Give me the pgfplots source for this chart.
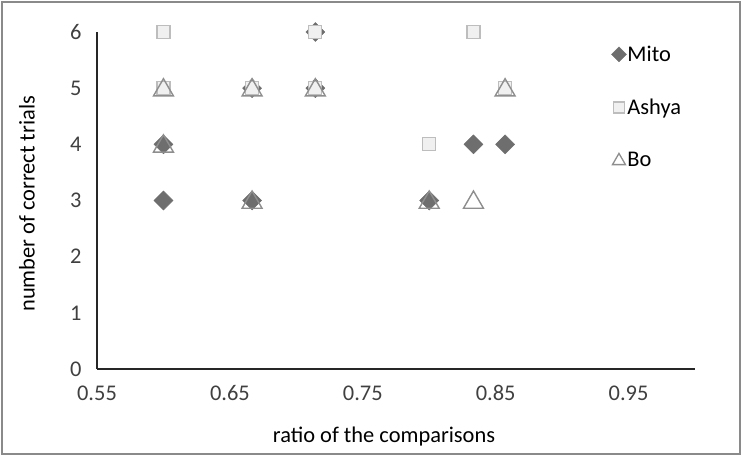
\documentclass[border=0pt]{standalone}
\usepackage{fontspec}
\setmainfont{Carlito}
\usepackage{pgfplots}
\pgfplotsset{compat=1.18}
\definecolor{mitofill}{HTML}{6E6E6E}
\definecolor{ashyafill}{HTML}{F0F0F0}
\definecolor{ashyaedge}{HTML}{BDBDBD}
\definecolor{boedge}{HTML}{8E8E8E}
\definecolor{ticktext}{HTML}{404040}
\definecolor{frame}{HTML}{8A8A8A}

\begin{document}
\begin{tikzpicture}[font=\fontsize{22.5}{26}\selectfont]
\useasboundingbox (0,0) rectangle (742bp,457bp);
\draw[frame,line width=1.4bp] (2bp,3bp) rectangle (740bp,455bp);
\begin{axis}[
  at={(97bp,88bp)},anchor=south west,
  scale only axis,width=598bp,height=337bp,
  xmin=0.55,xmax=1.0,ymin=0,ymax=6,
  xtick={0.55,0.65,0.75,0.85,0.95},
  ytick={0,1,2,3,4,5,6},
  axis lines=left,
  axis line style={-,black!85,line width=1.2bp},
  major tick length=0pt,
  /pgf/number format/assume math mode=true,
  xticklabel style={/pgf/number format/fixed,/pgf/number format/fixed zerofill,
    /pgf/number format/precision=2,yshift=-13bp},
  tick label style={text=ticktext},
  yticklabel style={xshift=-12bp},
  xlabel={ratio of the comparisons},
  ylabel={number of correct trials},
  xlabel style={at={(rel axis cs:0.48,0)},anchor=center,yshift=-68bp},
  ylabel style={at={(rel axis cs:0,0.49)},anchor=center,yshift=70bp},
  clip=false,
  legend cell align=left,
  legend style={draw=none,fill=none,at={(rel axis cs:0.855,0.968)},anchor=north west,
    row sep=34bp,nodes={inner sep=1bp}},
]
% diamonds drawn as squares turned by 45 degrees
\addplot[only marks,forget plot,mark=square*,mark size=6.7bp,
  mark options={fill=mitofill,draw=mitofill,line width=0.5bp,rotate=45}]
  coordinates {(0.6,3) (0.6,4) (0.6667,3) (0.6667,5) (0.7143,5) (0.7143,6) (0.8,3) (0.8333,4) (0.8571,4)};
\addplot[only marks,forget plot,mark=square*,mark size=6.5bp,
  mark options={fill=ashyafill,draw=ashyaedge,line width=1.3bp}]
  coordinates {(0.6,6) (0.6,5) (0.6667,5) (0.7143,5) (0.7143,6) (0.8,4) (0.8333,6) (0.8571,5)};
\addplot[only marks,forget plot,mark=triangle,mark size=11.5bp,
  mark options={draw=boedge,line width=1.4bp,yshift=-2bp}]
  coordinates {(0.6,5) (0.6,4) (0.6667,5) (0.6667,3) (0.7143,5) (0.8,3) (0.8333,3) (0.8571,5)};
\addlegendimage{only marks,mark=square*,mark size=5.3bp,mark options={fill=mitofill,draw=mitofill,rotate=45}}
\addlegendentry{Mito}
\addlegendimage{only marks,mark=square*,mark size=5.5bp,mark options={fill=ashyafill,draw=ashyaedge,line width=1.2bp}}
\addlegendentry{Ashya}
\addlegendimage{only marks,mark=triangle,mark size=7.5bp,mark options={draw=boedge,line width=1.3bp,yshift=-1bp}}
\addlegendentry{Bo}
\end{axis}
\end{tikzpicture}
\end{document}
